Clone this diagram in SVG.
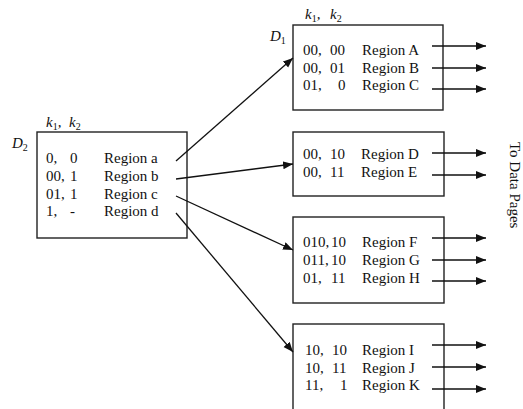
<svg xmlns="http://www.w3.org/2000/svg" width="523" height="409" viewBox="0 0 523 409">
<style>
text{font-family:"Liberation Serif","Times New Roman",serif;font-size:15px;fill:#111}
.it{font-style:italic}
.sub{font-size:10px;font-style:normal}
rect{fill:#fff;stroke:#222;stroke-width:1.4}
.c line{stroke:#111;stroke-width:1.3}
</style>
<defs>
<marker id="ah" markerUnits="userSpaceOnUse" markerWidth="11" markerHeight="9" refX="10" refY="4" orient="auto">
<path d="M0,0 L10,4 L0,8 z" fill="#111"/>
</marker>
</defs>
<g id="D2">
<rect x="37" y="132" width="150" height="106"/>
<text class="it" x="12" y="148">D<tspan class="sub" dy="3">2</tspan></text>
<text class="it" x="46" y="127">k<tspan class="sub" dy="3">1</tspan><tspan dy="-3">, </tspan></text>
<text class="it" x="69" y="127">k<tspan class="sub" dy="3">2</tspan></text>
<text x="46" y="163">0,</text><text x="70" y="163">0</text><text x="104" y="163">Region a</text>
<text x="46" y="181">00,</text><text x="70" y="181">1</text><text x="104" y="181">Region b</text>
<text x="46" y="198.5">01,</text><text x="70" y="198.5">1</text><text x="104" y="198.5">Region c</text>
<text x="46" y="216">1,</text><text x="70" y="216">-</text><text x="104" y="216">Region d</text>
</g>
<g id="D1">
<rect x="293" y="25" width="150" height="85"/>
<text class="it" x="270" y="41">D<tspan class="sub" dy="3">1</tspan></text>
<text class="it" x="305" y="19">k<tspan class="sub" dy="3">1</tspan><tspan dy="-3">, </tspan></text>
<text class="it" x="330" y="19">k<tspan class="sub" dy="3">2</tspan></text>
<text x="303" y="54.5">00,</text><text x="330" y="54.5">00</text><text x="362" y="54.5">Region A</text>
<text x="303" y="72.5">00,</text><text x="330" y="72.5">01</text><text x="362" y="72.5">Region B</text>
<text x="303" y="90">01,</text><text x="338" y="90">0</text><text x="362" y="90">Region C</text>
</g>
<g id="BoxDE">
<rect x="293" y="132" width="151" height="64"/>
<text x="303" y="159">00,</text><text x="330" y="159">10</text><text x="361" y="159">Region D</text>
<text x="303" y="176.5">00,</text><text x="330" y="176.5">11</text><text x="361" y="176.5">Region E</text>
</g>
<g id="BoxFGH">
<rect x="293" y="217" width="151" height="86"/>
<text x="303" y="247">010,</text><text x="331" y="247">10</text><text x="362" y="247">Region F</text>
<text x="303" y="264.5">011,</text><text x="331" y="264.5">10</text><text x="362" y="264.5">Region G</text>
<text x="303" y="282.5">01,</text><text x="331" y="282.5">11</text><text x="362" y="282.5">Region H</text>
</g>
<g id="BoxIJK">
<rect x="293" y="324" width="151" height="95"/>
<text x="305" y="355">10,</text><text x="332" y="355">10</text><text x="362" y="355">Region I</text>
<text x="305" y="372.5">10,</text><text x="332" y="372.5">11</text><text x="362" y="372.5">Region J</text>
<text x="305" y="390">11,</text><text x="340" y="390">1</text><text x="362" y="390">Region K</text>
</g>
<g id="connectors" class="c">
<line x1="176" y1="161" x2="293" y2="58" marker-end="url(#ah)"/>
<line x1="176" y1="179" x2="293" y2="164" marker-end="url(#ah)"/>
<line x1="176" y1="196" x2="293" y2="250" marker-end="url(#ah)"/>
<line x1="176" y1="213" x2="293" y2="352" marker-end="url(#ah)"/>
<line x1="432" y1="46" x2="486" y2="46" marker-end="url(#ah)"/>
<line x1="432" y1="68" x2="486" y2="68" marker-end="url(#ah)"/>
<line x1="432" y1="89" x2="486" y2="89" marker-end="url(#ah)"/>
<line x1="432" y1="153" x2="486" y2="153" marker-end="url(#ah)"/>
<line x1="432" y1="175" x2="486" y2="175" marker-end="url(#ah)"/>
<line x1="432" y1="238" x2="486" y2="238" marker-end="url(#ah)"/>
<line x1="432" y1="260" x2="486" y2="260" marker-end="url(#ah)"/>
<line x1="432" y1="281" x2="486" y2="281" marker-end="url(#ah)"/>
<line x1="432" y1="345" x2="486" y2="345" marker-end="url(#ah)"/>
<line x1="432" y1="367" x2="486" y2="367" marker-end="url(#ah)"/>
<line x1="432" y1="389" x2="486" y2="389" marker-end="url(#ah)"/>
</g>
<text id="toData" transform="translate(510,142) rotate(90)">To Data Pages</text>
</svg>
